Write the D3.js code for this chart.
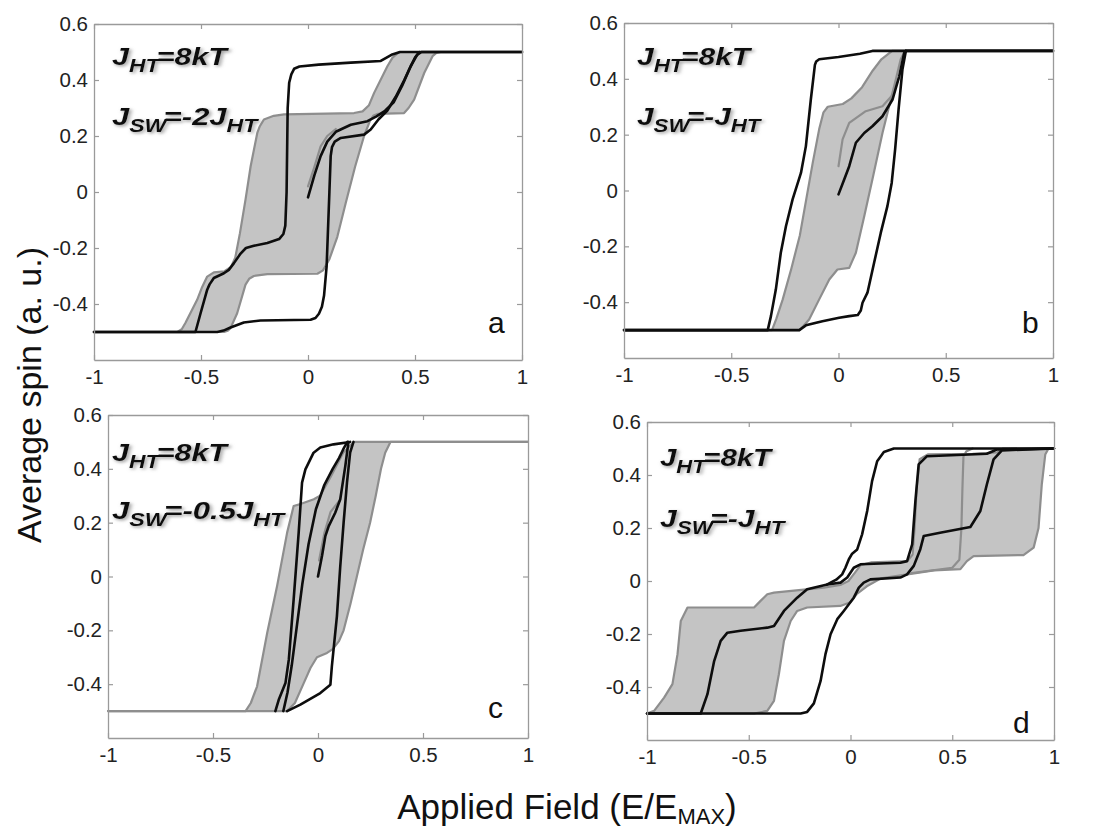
<!DOCTYPE html>
<html><head><meta charset="utf-8">
<script src="https://cdn.jsdelivr.net/npm/d3@7"></script>
<style>body{margin:0;background:#fff}svg{display:block}</style>
</head><body>
<svg id="chart" width="1099" height="835"></svg>
<script>
// ---------- DATA (x = applied field E/Emax, y = average spin) ----------
const xTicks = [-1, -0.5, 0, 0.5, 1];
const yTicks = [-0.4, -0.2, 0, 0.2, 0.4, 0.6];
const panelLetters = ["a", "b", "c", "d"];
const panelLine1 = [["J", "HT", "=8kT"], ["J", "HT", "=8kT"], ["J", "HT", "=8kT"], ["J", "HT", "=8kT"]];
const panelLine2 = [["J", "SW", "=-2J", "HT"], ["J", "SW", "=-J", "HT"], ["J", "SW", "=-0.5J", "HT"], ["J", "SW", "=-J", "HT"]];

// panel a
const aGrayDesc = [[1,0.5],[0.426,0.5],[0.395,0.48],[0.371,0.449],[0.309,0.354],[0.285,0.31],[0.255,0.288],[0.215,0.282],[-0.112,0.277],[-0.16,0.272],[-0.206,0.259],[-0.225,0.235],[-0.237,0.211],[-0.268,0.092],[-0.292,-0.027],[-0.318,-0.147],[-0.34,-0.235],[-0.36,-0.268],[-0.39,-0.283],[-0.44,-0.287],[-0.471,-0.302],[-0.495,-0.34],[-0.518,-0.385],[-0.573,-0.468],[-0.59,-0.49],[-0.61,-0.5],[-1,-0.5]];
const aGrayAsc = [[-1,-0.5],[-0.393,-0.5],[-0.375,-0.495],[-0.362,-0.486],[-0.331,-0.433],[-0.292,-0.331],[-0.275,-0.31],[-0.253,-0.3],[-0.19,-0.293],[0.044,-0.292],[0.07,-0.28],[0.1,-0.24],[0.137,-0.16],[0.176,-0.04],[0.22,0.09],[0.262,0.2],[0.29,0.255],[0.305,0.272],[0.324,0.279],[0.449,0.282],[0.47,0.3],[0.496,0.33],[0.543,0.425],[0.582,0.485],[0.6,0.497],[0.62,0.5],[1,0.5]];
const aBlackDesc = [[1,0.5],[0.43,0.5],[0.39,0.49],[0.34,0.468],[0.2,0.462],[0.05,0.455],[-0.04,0.448],[-0.065,0.44],[-0.078,0.42],[-0.088,0.39],[-0.095,0.3],[-0.1,0.0],[-0.106,-0.12],[-0.115,-0.15],[-0.135,-0.168],[-0.19,-0.182],[-0.253,-0.192],[-0.29,-0.2],[-0.315,-0.22],[-0.346,-0.254],[-0.37,-0.278],[-0.393,-0.29],[-0.44,-0.307],[-0.46,-0.33],[-0.471,-0.349],[-0.502,-0.433],[-0.526,-0.5],[-1,-0.5]];
const aBlackAsc = [[-1,-0.5],[-0.424,-0.5],[-0.395,-0.495],[-0.362,-0.484],[-0.3,-0.466],[-0.222,-0.459],[0.012,-0.456],[0.035,-0.45],[0.051,-0.435],[0.065,-0.41],[0.075,-0.37],[0.087,-0.266],[0.1,0.0],[0.106,0.128],[0.112,0.16],[0.125,0.18],[0.153,0.193],[0.262,0.205],[0.293,0.223],[0.33,0.26],[0.37,0.29],[0.41,0.34],[0.45,0.4],[0.48,0.45],[0.51,0.49],[0.53,0.5],[1,0.5]];
const aBlackInit = [[0,-0.019],[0.03,0.06],[0.059,0.128],[0.09,0.18],[0.13,0.215],[0.2,0.24],[0.278,0.253],[0.32,0.27],[0.36,0.29],[0.4,0.32],[0.44,0.38],[0.475,0.44],[0.5,0.48],[0.52,0.5]];
const aGrayInit = [[0,0.02],[0.03,0.09],[0.059,0.163],[0.09,0.2],[0.13,0.225]];

// panel b
const bGrayDesc = [[1,0.5],[0.25,0.5],[0.2,0.47],[0.16,0.43],[0.11,0.37],[0.06,0.33],[0.02,0.31],[-0.05,0.3],[-0.07,0.28],[-0.09,0.22],[-0.12,0.1],[-0.15,-0.03],[-0.18,-0.16],[-0.22,-0.28],[-0.26,-0.39],[-0.29,-0.46],[-0.31,-0.5],[-1,-0.5]];
const bGrayAsc = [[-1,-0.5],[-0.18,-0.5],[-0.137,-0.462],[-0.09,-0.39],[-0.043,-0.319],[-0.005,-0.283],[0.05,-0.277],[0.081,-0.223],[0.12,-0.092],[0.158,0.039],[0.205,0.206],[0.236,0.302],[0.267,0.397],[0.29,0.47],[0.31,0.5],[1,0.5]];
const bBlackDesc = [[1,0.5],[0.158,0.5],[0.1,0.49],[0.0,0.478],[-0.09,0.47],[-0.104,0.462],[-0.11,0.45],[-0.113,0.43],[-0.129,0.326],[-0.152,0.159],[-0.175,0.063],[-0.214,-0.032],[-0.245,-0.128],[-0.269,-0.223],[-0.292,-0.354],[-0.315,-0.45],[-0.33,-0.5],[-1,-0.5]];
const bBlackAsc = [[-1,-0.5],[-0.183,-0.5],[-0.152,-0.483],[-0.075,-0.468],[0.003,-0.456],[0.05,-0.45],[0.09,-0.446],[0.104,-0.43],[0.112,-0.402],[0.135,-0.366],[0.166,-0.259],[0.197,-0.152],[0.228,-0.056],[0.248,0.027],[0.264,0.147],[0.28,0.29],[0.298,0.433],[0.314,0.5],[1,0.5]];
const bBlackInit = [[0,-0.014],[0.027,0.04],[0.05,0.087],[0.081,0.171],[0.12,0.206],[0.158,0.23],[0.205,0.266],[0.252,0.326],[0.283,0.409],[0.306,0.492],[0.314,0.5]];
const bGrayInit = [[0,0.087],[0.019,0.183],[0.05,0.242],[0.127,0.284],[0.205,0.302],[0.25,0.34],[0.28,0.4]];

// panel c
const cGrayDesc = [[1,0.5],[0.17,0.5],[0.12,0.46],[0.06,0.37],[0.01,0.3],[-0.02,0.287],[-0.08,0.27],[-0.116,0.262],[-0.147,0.163],[-0.195,-0.036],[-0.242,-0.21],[-0.29,-0.408],[-0.32,-0.47],[-0.345,-0.5],[-1,-0.5]];
const cGrayAsc = [[-1,-0.5],[-0.147,-0.5],[-0.11,-0.47],[-0.07,-0.4],[-0.036,-0.34],[-0.005,-0.3],[0.043,-0.284],[0.07,-0.27],[0.1,-0.24],[0.122,-0.2],[0.155,-0.1],[0.185,0.0],[0.215,0.1],[0.248,0.2],[0.275,0.3],[0.3,0.4],[0.32,0.46],[0.345,0.5],[1,0.5]];
const cBlackDesc = [[0.153,0.5],[0.074,0.491],[0.011,0.479],[-0.021,0.46],[-0.06,0.398],[-0.076,0.349],[-0.092,0.163],[-0.116,-0.086],[-0.139,-0.309],[-0.155,-0.396],[-0.187,-0.458],[-0.203,-0.5]];
const cBlackAsc = [[-0.147,-0.5],[-0.084,-0.476],[0.011,-0.433],[0.059,-0.402],[0.066,-0.334],[0.09,-0.148],[0.106,0.038],[0.122,0.2],[0.138,0.349],[0.153,0.46],[0.169,0.5]];
const cBlackMid = [[-0.165,-0.5],[-0.145,-0.43],[-0.125,-0.33],[-0.1,-0.18],[-0.075,-0.03],[-0.045,0.12],[-0.01,0.25],[0.03,0.34],[0.07,0.4],[0.1,0.44],[0.125,0.48],[0.14,0.5]];
const cBlackInit = [[0,0],[0.019,0.076],[0.035,0.15],[0.051,0.187],[0.082,0.237],[0.106,0.287],[0.13,0.41],[0.145,0.5]];
const cGrayInit = [[0.005,0.06],[0.03,0.16],[0.06,0.24],[0.1,0.28]];

// panel d
const dGrayDesc = [[1,0.5],[0.75,0.5],[0.72,0.485],[0.6,0.48],[0.38,0.478],[0.34,0.46],[0.325,0.35],[0.315,0.2],[0.305,0.1],[0.28,0.075],[0.1,0.07],[0.05,0.06],[0.02,0.03],[-0.01,0.0],[-0.05,-0.015],[-0.131,-0.025],[-0.376,-0.044],[-0.409,-0.05],[-0.442,-0.075],[-0.474,-0.1],[-0.801,-0.1],[-0.834,-0.151],[-0.85,-0.276],[-0.875,-0.389],[-0.916,-0.44],[-0.965,-0.49],[-1,-0.5]];
const dGrayAsc = [[-1,-0.5],[-0.474,-0.5],[-0.409,-0.49],[-0.376,-0.452],[-0.352,-0.352],[-0.327,-0.226],[-0.294,-0.151],[-0.262,-0.113],[-0.213,-0.1],[-0.05,-0.094],[0.0,-0.08],[0.03,-0.05],[0.08,-0.02],[0.15,0.01],[0.41,0.04],[0.54,0.045],[0.572,0.075],[0.605,0.094],[0.85,0.098],[0.9,0.126],[0.924,0.2],[0.94,0.364],[0.957,0.477],[0.973,0.5],[1,0.5]];
const dGrayMid = [[0.3,0.03],[0.5,0.05],[0.535,0.08],[0.545,0.2],[0.55,0.35],[0.555,0.47],[0.57,0.49],[0.6,0.5]];
const dBlackMid = [[-1,-0.5],[-0.736,-0.5],[-0.703,-0.427],[-0.67,-0.302],[-0.638,-0.226],[-0.605,-0.195],[-0.54,-0.188],[-0.409,-0.176],[-0.376,-0.17],[-0.327,-0.113],[-0.262,-0.063],[-0.213,-0.031],[-0.114,-0.013],[-0.049,-0.006],[-0.016,0.013],[0.016,0.05],[0.049,0.063],[0.245,0.069],[0.278,0.075],[0.303,0.138],[0.319,0.302],[0.335,0.44],[0.376,0.471],[0.67,0.48],[0.72,0.496],[1,0.5]];
const dBlackDesc = [[1,0.5],[0.213,0.5],[0.164,0.487],[0.131,0.452],[0.106,0.377],[0.082,0.264],[0.057,0.176],[0.033,0.119],[0.008,0.103],[-0.008,0.082],[-0.025,0.05],[-0.041,0.025],[-0.07,0.005],[-0.114,-0.013]];
const dBlackAsc = [[-1,-0.5],[-0.245,-0.5],[-0.213,-0.494],[-0.18,-0.462],[-0.147,-0.377],[-0.123,-0.276],[-0.098,-0.201],[-0.065,-0.144],[-0.033,-0.113],[-0.008,-0.088],[0.016,-0.063],[0.041,-0.025],[0.065,-0.006],[0.098,0.006],[0.245,0.013],[0.278,0.025],[0.311,0.057],[0.343,0.12],[0.36,0.17],[0.44,0.182],[0.589,0.204],[0.638,0.264],[0.67,0.364],[0.703,0.459],[0.744,0.493],[1,0.5]];

// ---------- LAYOUT ----------
const panels = [
  {l:94,  r:522,  t:24,  b:360, band:[aGrayAsc,aGrayDesc], gray:[aGrayInit], black:[aBlackDesc,aBlackAsc,aBlackInit], txt:[112,65,125], tw:[118,148], let:[488,333]},
  {l:624, r:1053, t:23,  b:358, band:[bGrayAsc,bGrayDesc], gray:[bGrayInit], black:[bBlackDesc,bBlackAsc,bBlackInit], txt:[637,65,125], tw:[116,126], let:[1022,333]},
  {l:108, r:528,  t:415, b:738, band:[cGrayAsc,cGrayDesc], gray:[cGrayInit], black:[cBlackDesc,cBlackAsc,cBlackMid,cBlackInit], txt:[112,461,519], tw:[118,175], let:[488,718]},
  {l:647, r:1054, t:422, b:740, band:[dGrayAsc,dGrayDesc], gray:[dGrayMid], black:[dBlackMid,dBlackDesc,dBlackAsc], txt:[660,466,527], tw:[114,127], let:[1013,733]}
];

const svg = d3.select("#chart");
const FONT = "'Liberation Sans', Arial, sans-serif";
const defs = svg.append("defs");
const f = defs.append("filter").attr("id","shadow").attr("x","-10%").attr("y","-30%").attr("width","130%").attr("height","170%");
f.append("feDropShadow").attr("dx",1.5).attr("dy",1.5).attr("stdDeviation",1.6).attr("flood-color","#777").attr("flood-opacity",0.75);

const fmt = d => String(d);
const frameColor = "#9a9a9a";

panels.forEach((p, i) => {
  const x = d3.scaleLinear().domain([-1, 1]).range([p.l, p.r]);
  const y = d3.scaleLinear().domain([-0.6, 0.6]).range([p.b, p.t]);
  const line = d3.line().x(d => x(d[0])).y(d => y(d[1])).curve(d3.curveLinear);
  const g = svg.append("g");

  // gray hysteresis band
  const bandPts = p.band[0].concat(p.band[1]);
  g.append("path").attr("d", line(bandPts) + "Z").attr("fill", "#c4c4c4").attr("stroke", "none");
  p.band.concat(p.gray).forEach(s => g.append("path").attr("d", line(s)).attr("fill", "none")
    .attr("stroke", "#8e8e8e").attr("stroke-width", 2.2).attr("stroke-linejoin", "round").attr("stroke-linecap", "round"));
  p.black.forEach(s => g.append("path").attr("d", line(s)).attr("fill", "none")
    .attr("stroke", "#0d0d0d").attr("stroke-width", 2.6).attr("stroke-linejoin", "round").attr("stroke-linecap", "round"));

  // axes (inward ticks on all four sides)
  const ax = (gen, tr) => {
    const a = g.append("g").attr("transform", tr).call(gen);
    a.select(".domain").attr("stroke", frameColor).attr("stroke-width", 1.3);
    a.selectAll(".tick line").attr("stroke", frameColor).attr("stroke-width", 1.2);
    a.selectAll("text").attr("font-family", FONT).attr("font-size", 20.5).attr("fill", "#222");
    return a;
  };
  ax(d3.axisBottom(x).tickValues(xTicks).tickSize(-5).tickSizeOuter(0).tickPadding(9).tickFormat(fmt), `translate(0,${p.b})`);
  ax(d3.axisTop(x).tickValues(xTicks).tickSize(-5).tickSizeOuter(0).tickFormat(""), `translate(0,${p.t})`);
  ax(d3.axisLeft(y).tickValues(yTicks).tickSize(-5).tickSizeOuter(0).tickPadding(6).tickFormat(fmt), `translate(${p.l},0)`);
  ax(d3.axisRight(y).tickValues(yTicks).tickSize(-5).tickSizeOuter(0).tickFormat(""), `translate(${p.r},0)`);

  // annotation text, stretched horizontally to the width seen in the figure
  const addLabel = (parts, yy, width) => {
    const wrap = g.append("g");
    const t = wrap.append("text").attr("x", 0).attr("y", 0).attr("font-family", FONT)
      .attr("font-weight", "bold").attr("font-style", "italic").attr("font-size", 24)
      .attr("fill", "#111").attr("filter", "url(#shadow)");
    parts.forEach((s, k) => {
      const sub = (k % 2 === 1);
      t.append("tspan").text(s)
        .attr("font-size", sub ? 18 : 24)
        .attr("dy", k === 0 ? 0 : (sub ? 7 : -7))
        .attr("dx", (!sub && k > 0) ? -2 : 0);
    });
    const w = t.node().getBBox().width;
    const s = w > 0 ? width / w : 1;
    wrap.attr("transform", `translate(${p.txt[0]},${yy}) scale(${s},1)`);
  };
  addLabel(panelLine1[i], p.txt[1], p.tw[0]);
  addLabel(panelLine2[i], p.txt[2], p.tw[1]);

  g.append("text").attr("x", p.let[0]).attr("y", p.let[1]).text(panelLetters[i])
    .attr("font-family", FONT).attr("font-size", 30).attr("fill", "#111");
});

// axis titles
svg.append("text").attr("transform", "translate(41,395) rotate(-90)").attr("text-anchor", "middle")
  .attr("font-family", FONT).attr("font-size", 34).attr("fill", "#111").text("Average spin (a. u.)");
const xt = svg.append("text").attr("x", 567).attr("y", 819).attr("text-anchor", "middle")
  .attr("font-family", FONT).attr("font-size", 35).attr("fill", "#111");
xt.append("tspan").text("Applied Field (E/E");
xt.append("tspan").text("MAX").attr("font-size", 22).attr("dy", 5);
xt.append("tspan").text(")").attr("dy", -5);
</script>
</body></html>
